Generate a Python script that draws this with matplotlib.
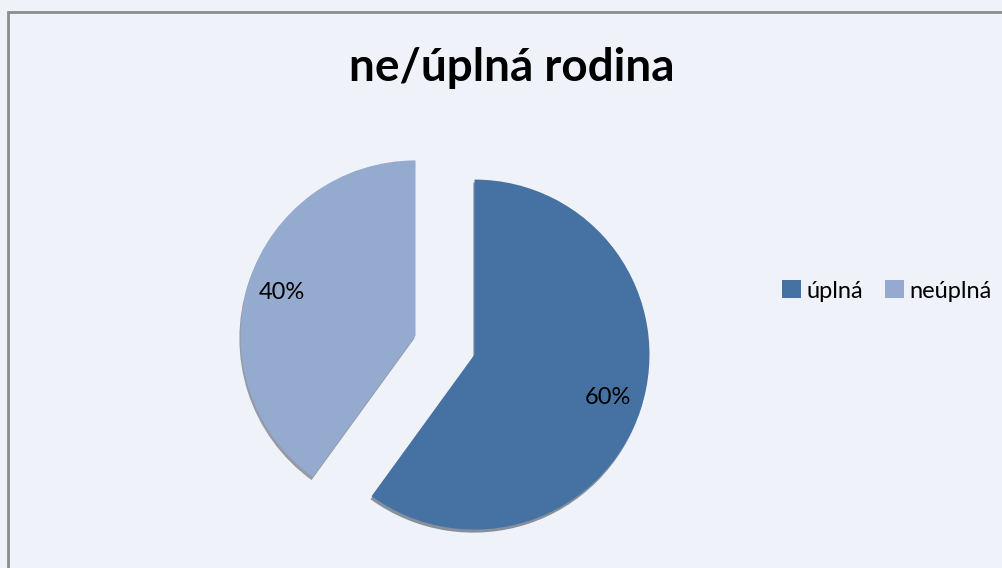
import matplotlib.pyplot as plt
from matplotlib.patches import Rectangle

categories = ["úplná", "neúplná"]
values = [60, 40]
colors = ["#4672A3", "#94AACF"]
title = "ne/úplná rodina"

plt.rcParams['font.family'] = ['Lato', 'DejaVu Sans']

W, H = 1003, 568
fig = plt.figure(figsize=(W / 100, H / 100), dpi=100)
fig.patch.set_facecolor("#EFF3F9")

# frame of the chart area (left and top visible)
fig.patches.append(Rectangle((8 / W, -0.1), 1.2, (H - 12) / H + 0.1,
                             transform=fig.transFigure, fill=False,
                             edgecolor="#8C8C8C", linewidth=2))

ax = fig.add_axes([0, 0, 1, 1])
ax.set_xlim(0, W)
ax.set_ylim(0, H)
ax.axis("off")

# explode is in data units (pixels here)
wedges, texts, autotexts = ax.pie(
    values, colors=colors, startangle=90, counterclock=False,
    center=(445, H - 345), radius=175, explode=[31, 31],
    autopct="%d%%", pctdistance=0.8,
    shadow={"ox": -0.8, "oy": -2.2, "shade": 0.6},
    textprops={"fontsize": 17, "color": "black"},
    wedgeprops={"linewidth": 0})
ax.set_xlim(0, W)
ax.set_ylim(0, H)
ax.set_aspect("auto")

fig.text(512 / W, 1 - 68 / H, title, ha="center", va="center",
         fontsize=33, fontweight="bold")

ax.legend(wedges, categories, loc="center left",
          bbox_to_anchor=(782 / W, 1 - 291 / H), bbox_transform=fig.transFigure,
          ncol=2, frameon=False, fontsize=17, handlelength=0.8,
          handleheight=0.8, handletextpad=0.25, columnspacing=0.9,
          borderpad=0, borderaxespad=0)

fig.savefig("out.png", dpi=100, facecolor=fig.get_facecolor())
